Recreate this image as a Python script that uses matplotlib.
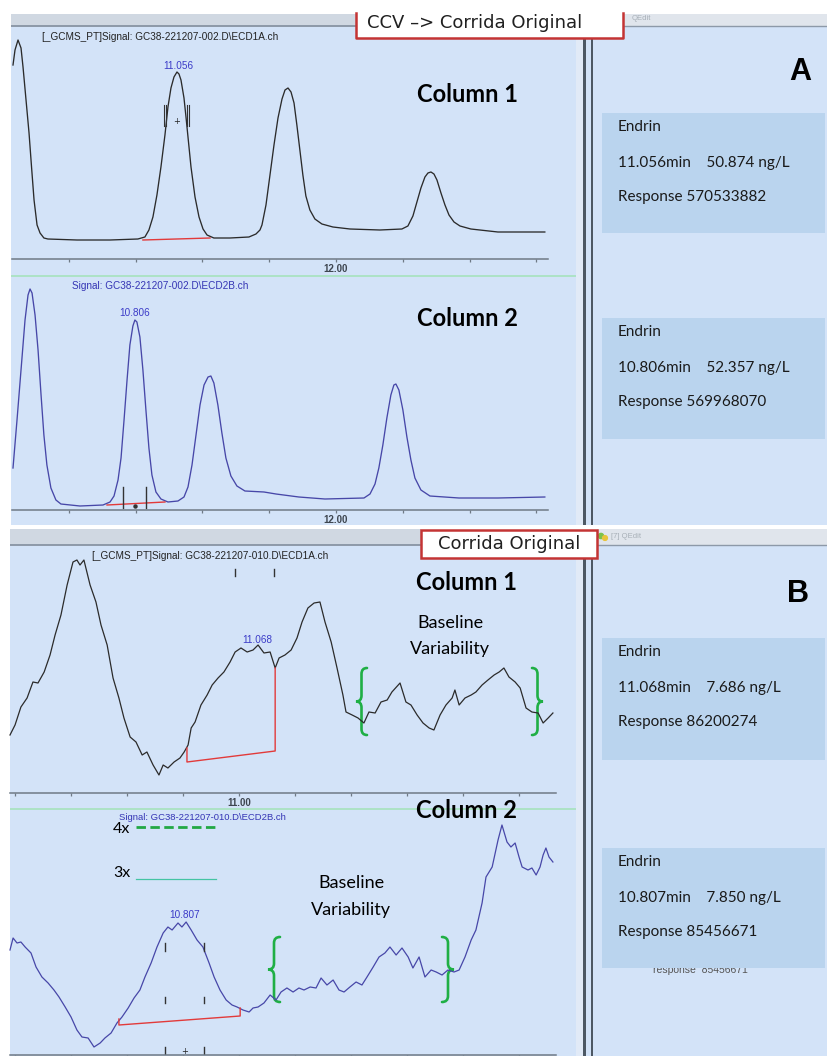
import matplotlib
matplotlib.use("Agg")
import matplotlib.pyplot as plt
from matplotlib.patches import Rectangle, PathPatch
from matplotlib.path import Path

W, H = 828, 1056

# ------------------------------------------------------------------ data
# Panel A (CCV) - column 1 (ECD1A), time in min, signal in arbitrary units
a1_time = [10.066, 10.078, 10.096, 10.114, 10.126, 10.144, 10.162, 10.177, 10.192, 10.210,
           10.228, 10.251, 10.275, 10.449, 10.647, 10.814, 10.856, 10.880, 10.904, 10.928,
           10.952, 10.976, 10.994, 11.012, 11.030, 11.048, 11.060, 11.072, 11.090, 11.102,
           11.114, 11.132, 11.156, 11.180, 11.204, 11.228, 11.269, 11.365, 11.479, 11.521,
           11.545, 11.557, 11.581, 11.605, 11.629, 11.653, 11.677, 11.695, 11.713, 11.731,
           11.749, 11.766, 11.784, 11.802, 11.820, 11.844, 11.874, 11.916, 11.982, 12.084,
           12.263, 12.395, 12.431, 12.461, 12.485, 12.509, 12.533, 12.551, 12.569, 12.587,
           12.605, 12.629, 12.653, 12.677, 12.707, 12.743, 12.808, 12.970, 13.251]
a1_signal = [194, 209, 219, 211, 192, 159, 126, 92, 59, 34,
             26, 21, 20, 19, 19, 20, 22, 29, 42, 64,
             92, 124, 152, 171, 182, 187, 185, 179, 161, 142,
             122, 92, 62, 42, 30, 24, 21, 21, 22, 25,
             29, 34, 54, 84, 114, 141, 160, 169, 171, 167,
             156, 134, 109, 84, 63, 49, 40, 35, 32, 30,
             29, 30, 33, 43, 57, 71, 82, 86, 87, 85,
             79, 66, 54, 44, 37, 33, 30, 27, 27]

# Panel A - column 2 (ECD2B)
a2_time = [10.066, 10.090, 10.114, 10.138, 10.156, 10.168, 10.180, 10.198, 10.216, 10.234,
           10.251, 10.269, 10.293, 10.323, 10.353, 10.467, 10.605, 10.647, 10.671, 10.695,
           10.713, 10.731, 10.749, 10.766, 10.784, 10.796, 10.808, 10.826, 10.844, 10.862,
           10.880, 10.898, 10.922, 10.952, 10.994, 11.054, 11.090, 11.114, 11.138, 11.162,
           11.186, 11.210, 11.234, 11.251, 11.269, 11.293, 11.317, 11.341, 11.371, 11.407,
           11.455, 11.569, 11.641, 11.778, 11.934, 12.168, 12.204, 12.234, 12.257, 12.281,
           12.305, 12.329, 12.347, 12.359, 12.377, 12.401, 12.425, 12.449, 12.473, 12.509,
           12.563, 12.737, 12.970, 13.251]
a2_signal = [42, 90, 140, 190, 215, 221, 217, 195, 160, 115,
             75, 45, 22, 10, 6, 4, 5, 8, 14, 30,
             52, 90, 130, 165, 184, 190, 188, 173, 140, 100,
             62, 35, 18, 11, 8, 9, 13, 23, 45, 75,
             105, 125, 133, 134, 127, 105, 77, 52, 34, 24,
             19, 18, 16, 13, 11, 12, 16, 26, 42, 65,
             92, 115, 125, 126, 120, 100, 73, 50, 32, 20,
             14, 12, 12, 13]

# Panel B (original run) - column 1
b1_time = [10.182, 10.200, 10.221, 10.243, 10.264, 10.282, 10.304, 10.325, 10.343, 10.364,
           10.386, 10.407, 10.421, 10.432, 10.446, 10.468, 10.489, 10.507, 10.529, 10.550,
           10.571, 10.589, 10.611, 10.632, 10.654, 10.671, 10.693, 10.714, 10.729, 10.746,
           10.768, 10.789, 10.804, 10.818, 10.829, 10.843, 10.864, 10.886, 10.904, 10.925,
           10.946, 10.968, 10.986, 11.007, 11.029, 11.050, 11.068, 11.089, 11.111, 11.129,
           11.143, 11.164, 11.186, 11.207, 11.225, 11.246, 11.268, 11.289, 11.307, 11.329,
           11.350, 11.371, 11.382, 11.404, 11.425, 11.446, 11.464, 11.486, 11.507, 11.529,
           11.546, 11.575, 11.596, 11.614, 11.636, 11.657, 11.679, 11.696, 11.718, 11.739,
           11.761, 11.771, 11.786, 11.807, 11.829, 11.846, 11.868, 11.889, 11.911, 11.929,
           11.946, 11.964, 11.986, 12.004, 12.025, 12.046, 12.068, 12.086, 12.104, 12.121]
b1_signal = [58, 68, 86, 95, 111, 110, 121, 138, 158, 178,
             208, 231, 233, 228, 233, 208, 191, 168, 148, 115,
             95, 75, 56, 51, 38, 41, 28, 18, 28, 25,
             31, 35, 41, 48, 65, 71, 88, 98, 108, 115,
             121, 131, 141, 145, 141, 143, 148, 140, 141, 125,
             135, 138, 143, 155, 171, 185, 190, 191, 171, 151,
             125, 98, 81, 78, 75, 70, 81, 80, 91, 93,
             101, 110, 91, 88, 78, 70, 65, 63, 78, 88,
             95, 103, 88, 95, 98, 101, 108, 113, 118, 121,
             125, 116, 111, 105, 85, 81, 80, 70, 75, 80]

# Panel B - column 2
b2_time = [10.182, 10.193, 10.207, 10.221, 10.236, 10.257, 10.275, 10.296, 10.318, 10.339,
           10.357, 10.379, 10.400, 10.421, 10.439, 10.461, 10.482, 10.504, 10.521, 10.543,
           10.564, 10.582, 10.604, 10.625, 10.646, 10.664, 10.686, 10.707, 10.729, 10.746,
           10.761, 10.782, 10.796, 10.811, 10.829, 10.850, 10.871, 10.893, 10.911, 10.932,
           10.954, 10.975, 10.993, 11.014, 11.036, 11.050, 11.068, 11.089, 11.111, 11.132,
           11.150, 11.171, 11.193, 11.214, 11.232, 11.254, 11.275, 11.293, 11.314, 11.336,
           11.357, 11.375, 11.396, 11.418, 11.439, 11.457, 11.479, 11.500, 11.521, 11.539,
           11.561, 11.582, 11.604, 11.621, 11.643, 11.664, 11.686, 11.704, 11.725, 11.746,
           11.768, 11.786, 11.807, 11.829, 11.846, 11.868, 11.882, 11.904, 11.925, 11.939,
           11.957, 11.971, 11.986, 12.000, 12.011, 12.032, 12.046, 12.061, 12.075, 12.086,
           12.096, 12.107, 12.121]
b2_signal = [105, 117, 112, 113, 108, 102, 88, 78, 72, 65,
             58, 48, 38, 25, 18, 17, 8, 12, 17, 22,
             32, 38, 47, 57, 65, 78, 92, 108, 122, 128,
             125, 132, 128, 133, 125, 115, 108, 92, 78, 65,
             55, 50, 48, 45, 43, 47, 48, 52, 60, 55,
             63, 67, 63, 67, 65, 68, 67, 77, 70, 75,
             65, 63, 68, 73, 70, 78, 88, 98, 102, 108,
             100, 107, 98, 87, 98, 78, 85, 83, 80, 85,
             83, 85, 98, 115, 125, 152, 178, 188, 215, 230,
             213, 208, 212, 198, 188, 185, 187, 180, 188, 200,
             207, 198, 193]

a_ticks = [10.4, 10.8, 11.2, 11.6, 12.0, 12.4, 12.8, 13.2]
a_tick_label = "12.00"
b_ticks = [10.2, 10.4, 10.6, 10.8, 11.0, 11.2, 11.4, 11.6, 11.8, 12.0]
b_tick_label = "11.00"

a1_title = "[_GCMS_PT]Signal: GC38-221207-002.D\\ECD1A.ch"
a2_title = "Signal: GC38-221207-002.D\\ECD2B.ch"
b1_title = "[_GCMS_PT]Signal: GC38-221207-010.D\\ECD1A.ch"
b2_title = "Signal: GC38-221207-010.D\\ECD2B.ch"

info_a = [("Endrin", "11.056min    50.874 ng/L", "Response 570533882"),
          ("Endrin", "10.806min    52.357 ng/L", "Response 569968070")]
info_b = [("Endrin", "11.068min    7.686 ng/L", "Response 86200274"),
          ("Endrin", "10.807min    7.850 ng/L", "Response 85456671")]

# ------------------------------------------------------------------ style
BG = '#d3e3f8'
BOX = '#bad4ee'
TITLE = '#d0d8e2'
TITLE_R = '#e0e5ec'
TITLE_LINE = '#8d99a8'
DARK = '#4d5864'
AXIS = '#6f7a86'
TRACE_K = '#2b2b2b'
TRACE_B = '#4747a8'
LBL_B = '#3b3bc8'
RED = '#e23a3a'
GREEN = '#1faf45'
SMALL = 'Liberation Sans'
CAL = 'Lato'

fig = plt.figure(figsize=(W / 100, H / 100), dpi=100)
fig.patch.set_facecolor('white')
bg = fig.add_axes([0, 0, 1, 1])
bg.set_xlim(0, W)
bg.set_ylim(H, 0)
bg.axis('off')


def rect(x0, y0, x1, y1, color, z=1, ec='none', lw=0):
    bg.add_patch(Rectangle((x0, y0), x1 - x0, y1 - y0, facecolor=color,
                           edgecolor=ec, linewidth=lw, zorder=z))


def hline(x0, x1, y, color, lw, z=2, **kw):
    bg.plot([x0, x1], [y, y], color=color, lw=lw, zorder=z, solid_capstyle='butt', **kw)


def brace(x_arm, x_tip, y0, y1, r=6):
    xm = (x_arm + x_tip) / 2
    yc = (y0 + y1) / 2
    verts = [(x_arm, y0), (xm, y0), (xm, y0 + r), (xm, yc - r), (xm, yc), (x_tip, yc),
             (xm, yc), (xm, yc + r), (xm, y1 - r), (xm, y1), (x_arm, y1)]
    codes = [Path.MOVETO, Path.CURVE3, Path.CURVE3, Path.LINETO, Path.CURVE3, Path.CURVE3,
             Path.CURVE3, Path.CURVE3, Path.LINETO, Path.CURVE3, Path.CURVE3]
    bg.add_patch(PathPatch(Path(verts, codes), facecolor='none', edgecolor=GREEN,
                           lw=1.9, zorder=6, capstyle='round'))


# ---- window frames panel A
rect(11, 14, 356, 27, TITLE)
hline(11, 356, 26, TITLE_LINE, 1.4)
rect(622, 14, 828, 27, TITLE_R)
hline(622, 828, 26, TITLE_LINE, 1.0)
bg.text(632, 18, "QEdit", fontsize=5.5, color='#a8b0b8', family=SMALL, va='center')
rect(11, 27, 576, 525, BG)
rect(576, 27, 583, 525, '#e1eaf7')
rect(583, 27, 586, 525, DARK)
rect(586, 27, 591, 525, BG)
rect(591, 27, 593, 525, DARK)
rect(593, 27, 828, 525, BG)
hline(11, 576, 275.5, '#a6e2bd', 1.2)

# red caption box A
rect(356, 0, 623, 38, 'white', z=3)
bg.plot([356, 356, 623, 623], [13, 38, 38, 13], color='#c43434', lw=1.8, zorder=4)
bg.text(367, 23, "CCV \u2013> Corrida Original", fontsize=13, family='DejaVu Sans',
        color='#202020', va='center', ha='left', zorder=5)

# ---- window frames panel B
rect(10, 529, 421, 545, TITLE)
hline(10, 421, 545, TITLE_LINE, 1.4)
rect(597, 529, 828, 545, TITLE_R)
hline(597, 828, 545, TITLE_LINE, 1.0)
bg.add_patch(plt.Circle((601, 536), 2.6, color='#7cc24a', zorder=3))
bg.add_patch(plt.Circle((605, 538), 2.4, color='#e8c43a', zorder=3))
bg.text(611, 537, "[7] QEdit", fontsize=5.5, color='#a8b0b8', family=SMALL, va='center')
rect(10, 546, 576, 1056, BG)
rect(576, 546, 583, 1056, '#e1eaf7')
rect(583, 546, 586, 1056, DARK)
rect(586, 546, 591, 1056, BG)
rect(591, 546, 593, 1056, DARK)
rect(593, 546, 828, 1056, BG)
hline(10, 576, 809, '#a6e2bd', 1.2)

rect(421, 530, 597, 558, 'white', z=3, ec='#c43434', lw=1.8)
bg.text(509, 544, "Corrida Original", fontsize=13, family='DejaVu Sans',
        color='#202020', va='center', ha='center', zorder=5)

# ---- right-hand info panels
bg.text(800, 72, "A", fontsize=22, family=SMALL, weight='bold', ha='center', va='center')
bg.text(798, 594, "B", fontsize=22, family=SMALL, weight='bold', ha='center', va='center')

box_rows = [(113, 233, info_a[0]), (318, 439, info_a[1]),
            (638, 760, info_b[0]), (848, 968, info_b[1])]
for y0, y1, (name, rt, resp) in box_rows:
    rect(602, y0, 825, y1, BOX, z=3)
    bg.text(618, y0 + 14, name, fontsize=11, family=CAL, va='center', zorder=4, color='#1a1a1a')
    bg.text(618, y0 + 50, rt, fontsize=11, family=CAL, va='center', zorder=4, color='#1a1a1a')
    bg.text(618, y0 + 84, resp, fontsize=11, family=CAL, va='center', zorder=4, color='#1a1a1a')
bg.text(653, 973, "response  85456671", fontsize=7.5, family=SMALL, color='#555555',
        va='baseline', zorder=2)

# ---- text on chromatogram windows
bg.text(42, 37, a1_title, fontsize=7.2, family=SMALL, color='#222222', va='center')
bg.text(72, 286, a2_title, fontsize=7.2, family=SMALL, color='#3434b4', va='center')
bg.text(92, 556, b1_title, fontsize=7.2, family=SMALL, color='#222222', va='center')
bg.text(119, 818, b2_title, fontsize=6.8, family=SMALL, color='#3434b4', va='center')

bg.text(468, 95, "Column 1", fontsize=17, family=CAL, weight='bold', ha='center', va='center')
bg.text(468, 319, "Column 2", fontsize=17, family=CAL, weight='bold', ha='center', va='center')
bg.text(467, 582, "Column 1", fontsize=17, family=CAL, weight='bold', ha='center', va='center')
bg.text(467, 811, "Column 2", fontsize=17, family=CAL, weight='bold', ha='center', va='center',
        zorder=5)

bg.text(450, 628, "Baseline", fontsize=13, family=CAL, ha='center', va='baseline')
bg.text(450, 654, "Variability", fontsize=13, family=CAL, ha='center', va='baseline', zorder=3)
rect(484, 655.2, 500, 666, BG, z=4)
bg.text(351, 883, "Baseline", fontsize=13, family=CAL, ha='center', va='center')
bg.text(351, 910, "Variability", fontsize=13, family=CAL, ha='center', va='center')

bg.text(113, 829, "4x", fontsize=11.5, family=CAL, ha='left', va='center')
bg.plot([136, 216], [827, 827], color='#22a844', lw=2.0, ls=(0, (3.4, 1.6)), zorder=4)
bg.text(113, 873, "3x", fontsize=11.5, family=CAL, ha='left', va='center')
bg.plot([136, 216], [879, 879], color='#44c4a4', lw=0.9, zorder=4)

brace(367, 356, 668, 735)
brace(532, 543, 668, 735)
brace(280, 268, 937, 1002)
brace(442, 454, 937, 1002)


# ------------------------------------------------------------------ chromatograms
def chrom(x0, x1, ytop, ybot, xlim, ylim, ticks, label):
    ax = fig.add_axes([x0 / W, 1 - ybot / H, (x1 - x0) / W, (ybot - ytop) / H])
    ax.set_xlim(*xlim)
    ax.set_ylim(*ylim)
    ax.patch.set_alpha(0)
    for s in ('top', 'right', 'left'):
        ax.spines[s].set_visible(False)
    ax.spines['bottom'].set_color(AXIS)
    ax.spines['bottom'].set_linewidth(1.1)
    ax.set_yticks([])
    ax.set_xticks(ticks)
    ax.set_xticklabels([label if f"{t:.2f}" == label else "" for t in ticks])
    ax.tick_params(axis='x', direction='out', length=2.4, width=0.9, color=AXIS,
                   labelsize=7, labelcolor='#3e4650', pad=1.2)
    for lab in ax.get_xticklabels():
        lab.set_fontfamily(SMALL)
        lab.set_fontweight('bold')
    return ax


A_XLIM = (10.060, 13.270)
B_XLIM = (10.182, 12.132)

ax_a1 = chrom(12, 548, 30, 259, A_XLIM, (0, 229), a_ticks, a_tick_label)
ax_a1.plot(a1_time, a1_signal, color=TRACE_K, lw=0.95, clip_on=False)
ax_a1.plot([10.844, 11.246], [19, 21], color=RED, lw=1.0)
for t in (10.970, 10.982, 11.108, 11.120):
    ax_a1.plot([t, t], [133, 154], color='#333333', lw=0.8)
ax_a1.text(11.048, 137, "+", fontsize=6, ha='center', va='center', color='#222222')
ax_a1.text(11.054, 193, "11.056", fontsize=7.2, family=SMALL, color=LBL_B, ha='center', va='center')

ax_a2 = chrom(12, 548, 281, 510, A_XLIM, (0, 229), a_ticks, a_tick_label)
ax_a2.plot(a2_time, a2_signal, color=TRACE_B, lw=0.95, clip_on=False)
ax_a2.plot([10.629, 10.976], [5, 8], color=RED, lw=1.0)
for t in (10.725, 10.862):
    ax_a2.plot([t, t], [2, 23], color='#333333', lw=1.0)
ax_a2.plot([10.796], [4], 'o', ms=2.2, color='#333333')
ax_a2.text(10.796, 197, "10.806", fontsize=7.2, family=SMALL, color=LBL_B, ha='center', va='center')

ax_b1 = chrom(10, 556, 548, 793, B_XLIM, (0, 245), b_ticks, b_tick_label)
ax_b1.plot(b1_time, b1_signal, color=TRACE_K, lw=0.9, clip_on=False)
ax_b1.plot([10.814, 10.814, 11.129, 11.129], [45, 31, 42, 125], color=RED, lw=1.0)
for t in (10.986, 11.125):
    ax_b1.plot([t, t], [217, 224], color='#333333', lw=1.0)
ax_b1.text(11.064, 153, "11.068", fontsize=7.2, family=SMALL, color=LBL_B, ha='center', va='center')

ax_b2 = chrom(10, 556, 812, 1055, B_XLIM, (0, 243), b_ticks, "")
ax_b2.plot(b2_time, b2_signal, color=TRACE_B, lw=0.9, clip_on=False)
ax_b2.plot([10.571, 10.571, 11.004, 11.004], [36, 30, 39, 47], color=RED, lw=1.0)
for t in (10.736, 10.875):
    for ya, yb in ((104, 112), (52, 58), (1, 8)):
        ax_b2.plot([t, t], [ya, yb], color='#333333', lw=1.0)
ax_b2.text(10.807, 3, "+", fontsize=6, ha='center', va='center', color='#222222')
ax_b2.text(10.804, 140, "10.807", fontsize=7.2, family=SMALL, color=LBL_B, ha='center', va='center')

fig.savefig("out.png", dpi=100, facecolor='white')
